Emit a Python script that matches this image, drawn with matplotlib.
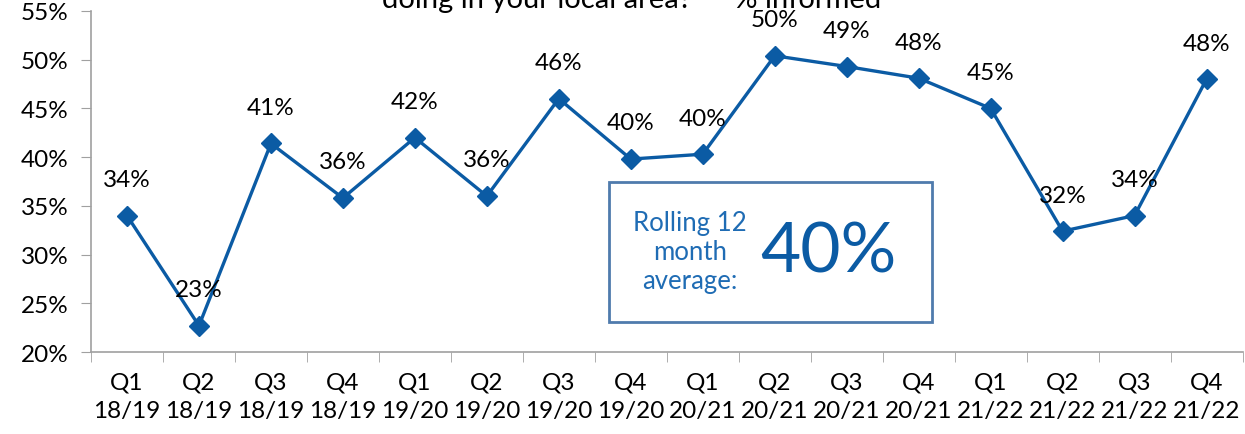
import numpy as np
import matplotlib.pyplot as plt

# Quarterly survey results: % who feel informed
quarters = ["Q1", "Q2", "Q3", "Q4"] * 4
years = ["18/19"] * 4 + ["19/20"] * 4 + ["20/21"] * 4 + ["21/22"] * 4
informed = [34.0, 22.7, 41.4, 35.8, 42.0, 36.0, 46.0, 39.8,
            40.3, 50.4, 49.3, 48.1, 45.0, 32.4, 34.0, 48.0]
rolling_avg = 40

line_col = "#0b5ba4"
text_col = "#1f6cb4"
font = "Lato"

plt.rcParams["font.family"] = [font, "DejaVu Sans"]

fig = plt.figure(figsize=(12.45, 4.35), dpi=100)
ax = fig.add_axes([0.0731, 0.1885, 0.9249, 0.784])

x = np.arange(len(informed))
ax.plot(x, informed, color=line_col, lw=2.4, marker="D", ms=10.5, zorder=3)

for xi, v in zip(x, informed):
    ax.annotate(f"{v:.0f}%", (xi, v), xytext=(0, 26), textcoords="offset points",
                ha="center", va="center", fontsize=17.5, color="black")

ax.set_xlim(-0.5, len(informed) - 0.5)
ax.set_ylim(20, 55)
ax.set_yticks(np.arange(20, 56, 5))
ax.set_yticklabels([f"{t}%" for t in range(20, 56, 5)], fontsize=17.5)

# category labels centred, ticks on the boundaries
ax.set_xticks(x)
ax.set_xticklabels([f"{q}\n{y}" for q, y in zip(quarters, years)], fontsize=17.5,
                   linespacing=1.45)
ax.tick_params(axis="x", which="major", length=0, pad=14)
ax.set_xticks(np.arange(-0.5, len(informed), 1), minor=True)
ax.tick_params(axis="x", which="minor", length=7, color="#a0a0a0")
ax.tick_params(axis="y", length=7, color="#a0a0a0", pad=9)

for s in ["top", "right"]:
    ax.spines[s].set_visible(False)
for s in ["left", "bottom"]:
    ax.spines[s].set_color("#a0a0a0")
    ax.spines[s].set_linewidth(1.2)

# rolling average callout
box = plt.Rectangle((609 / 1245, 1 - 323 / 435), (932 - 609) / 1245, (323 - 183) / 435,
                    transform=fig.transFigure, fill=True, facecolor="white",
                    edgecolor="#4f7bad", lw=2, zorder=5)
fig.add_artist(box)
fig.text(690 / 1245, 1 - 253 / 435, "Rolling 12\nmonth\naverage:", ha="center",
         va="center", fontsize=18.5, color=text_col, linespacing=1.2, zorder=6)
fig.text(828 / 1245, 1 - 253 / 435, f"{rolling_avg}%", ha="center", va="center",
         fontsize=50, color=line_col, zorder=6)

# second line of the question heading
fig.text(632 / 1245, 1 - 8 / 435, "doing in your local area?\u201d \u2013 % informed",
         ha="center", va="baseline", fontsize=21, color="black")

fig.savefig("out.png", dpi=100)
